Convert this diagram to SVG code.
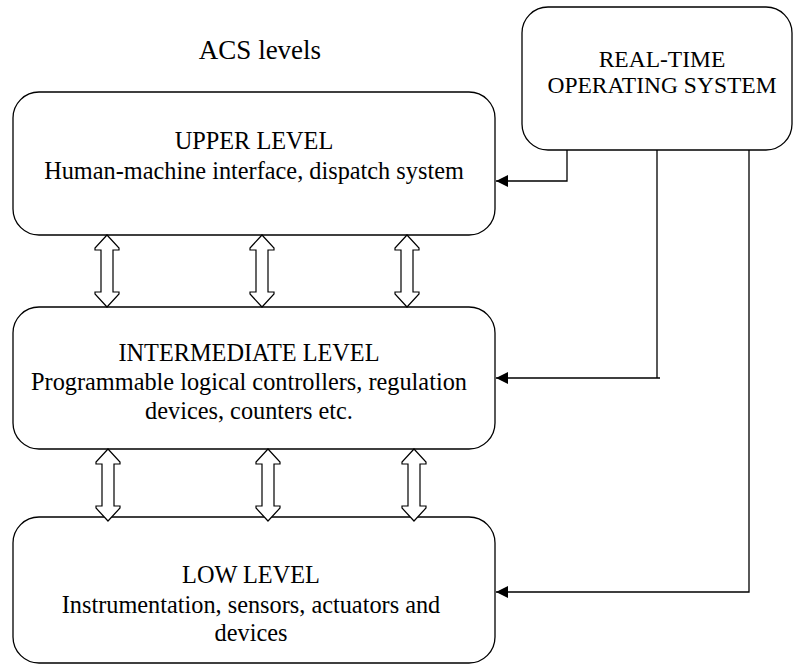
<svg xmlns="http://www.w3.org/2000/svg" width="793" height="665" viewBox="0 0 793 665">
<style>
.box{fill:#fff;stroke:#000;stroke-width:1.3}
text{font-family:'Liberation Serif','Times New Roman','DejaVu Serif',serif;font-size:24.3px;fill:#000;text-anchor:middle}
.dbl{fill:#fff;stroke:#000;stroke-width:1.2;stroke-linejoin:miter}
.con{fill:none;stroke:#000;stroke-width:1.3}
</style>
<defs>
<marker id="ah" viewBox="0 0 12 12" refX="12" refY="6" markerWidth="12" markerHeight="12" markerUnits="userSpaceOnUse" orient="auto">
<path d="M0,0 L12,6 L0,12 Z" fill="#000"/>
</marker>
<path id="da" d="M0,0 L12,13 L12,15 L6,15 L6,57 L12,57 L12,59 L0,72 L-12,59 L-12,57 L-6,57 L-6,15 L-12,15 L-12,13 Z"/>
</defs>
<text x="260" y="59" style="font-size:27px">ACS levels</text>
<g id="rtos">
<rect class="box" x="522" y="7" width="270" height="143" rx="26"/>
<text x="662" y="67" style="font-size:23.5px">REAL-TIME</text>
<text x="662" y="93" style="font-size:23.5px">OPERATING SYSTEM</text>
</g>
<g id="upper">
<rect class="box" x="13" y="92" width="482" height="143" rx="26"/>
<text x="254" y="149">UPPER LEVEL</text>
<text x="254" y="179">Human-machine interface, dispatch system</text>
</g>
<g id="intermediate">
<rect class="box" x="13" y="307" width="482" height="142" rx="26"/>
<text x="249" y="361">INTERMEDIATE LEVEL</text>
<text x="249" y="390">Programmable logical controllers, regulation</text>
<text x="249" y="419">devices, counters etc.</text>
</g>
<g id="low">
<rect class="box" x="13" y="517" width="482" height="146" rx="26"/>
<text x="251" y="583">LOW LEVEL</text>
<text x="251" y="613">Instrumentation, sensors, actuators and</text>
<text x="251" y="641">devices</text>
</g>
<g id="connectors">
<use href="#da" class="dbl" x="107" y="235"/>
<use href="#da" class="dbl" x="262" y="235"/>
<use href="#da" class="dbl" x="407" y="235"/>
<use href="#da" class="dbl" x="108" y="449"/>
<use href="#da" class="dbl" x="268" y="449"/>
<use href="#da" class="dbl" x="414" y="449"/>
<path class="con" d="M567,150 V181 H496" marker-end="url(#ah)"/>
<path class="con" d="M657,150 V378 H660 M657,378 H496" marker-end="url(#ah)"/>
<path class="con" d="M749,150 V592 H496" marker-end="url(#ah)"/>
</g>
</svg>
